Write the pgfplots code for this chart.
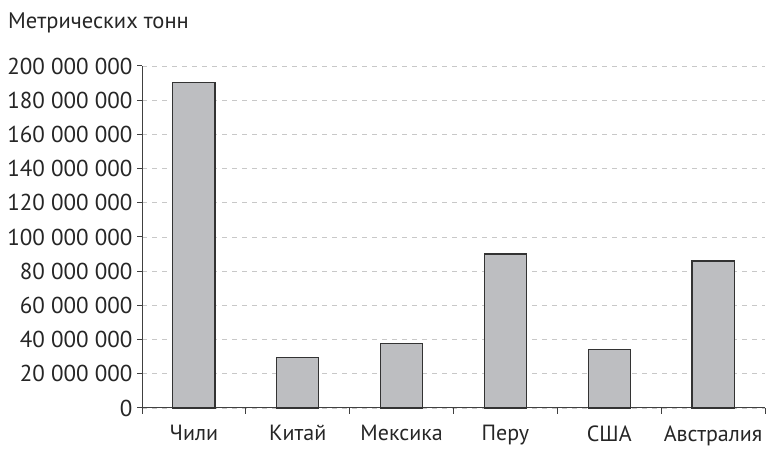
\documentclass[border=0pt]{standalone}
\usepackage{pgfplots}
\pgfplotsset{compat=1.18}
\usepackage{fontspec}
\setmainfont{PT Sans}
\definecolor{barfill}{HTML}{BDBEC1}
\definecolor{baredge}{HTML}{333333}
\definecolor{axcol}{HTML}{404040}
\definecolor{gridcol}{HTML}{C8C8C8}
\begin{document}
\begin{tikzpicture}[x=1bp,y=1bp]
\path[use as bounding box] (0,0) rectangle (766,449);
\node[anchor=west,inner sep=0pt,font=\fontsize{22.5bp}{24bp}\selectfont,text=black!85] at (8,426) {Метрических тонн};
\begin{axis}[
  at={(142bp,41bp)}, anchor=south west,
  scale only axis, width=623bp, height=342bp,
  xmin=-0.5, xmax=5.5, ymin=0, ymax=200000000,
  scaled y ticks=false,
  axis x line*=bottom, axis y line*=left,
  axis line style={axcol, line width=1pt},
  xtick={0,1,2,3,4,5},
  xticklabels={Чили,Китай,Мексика,Перу,США,Австралия},
  minor xtick={-0.5,0.5,1.5,2.5,3.5,4.5,5.5},
  major x tick style={draw=none},
  minor x tick style={axcol, line width=1pt},
  minor tick length=6bp,
  xtick pos=bottom, ytick pos=left,
  tick align=outside,
  ytick={0,20000000,40000000,60000000,80000000,100000000,120000000,140000000,160000000,180000000,200000000},
  yticklabels={0,20 000 000,40 000 000,60 000 000,80 000 000,100 000 000,120 000 000,140 000 000,160 000 000,180 000 000,200 000 000},
  major y tick style={axcol, line width=1pt},
  major tick length=5bp,
  ymajorgrids, major grid style={gridcol, dashed, dash pattern=on 5bp off 5bp, line width=0.8pt},
  xticklabel style={font=\fontsize{22bp}{24bp}\selectfont, text=black!85, yshift=-9bp},
  yticklabel style={font=\fontsize{23bp}{24bp}\selectfont, text=black!85, xshift=-1bp},
  ybar, bar width=0.405,
  clip=false,
]
\addplot[fill=barfill, draw=baredge, line width=1.2pt] coordinates {
(0,190500000) (1,29700000) (2,37700000) (3,90100000) (4,34200000) (5,86000000)};
\end{axis}
\end{tikzpicture}
\end{document}
